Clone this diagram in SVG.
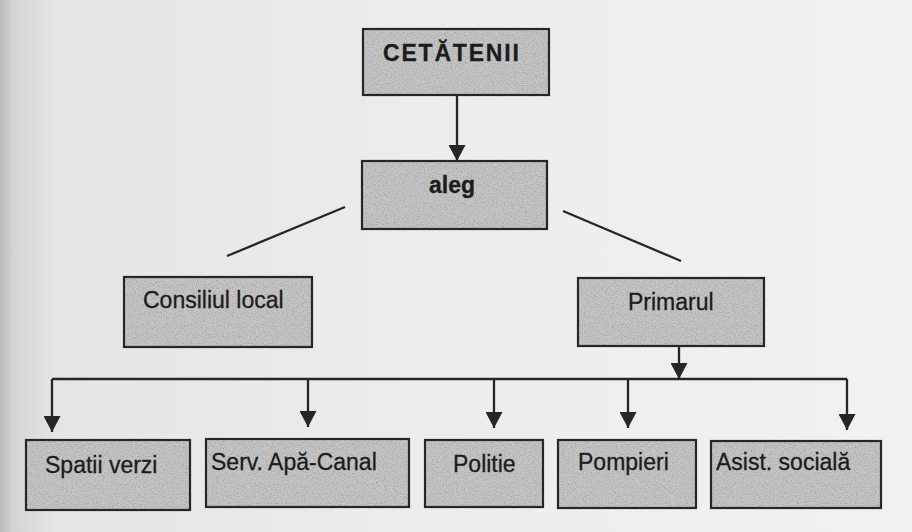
<svg xmlns="http://www.w3.org/2000/svg" width="912" height="532" viewBox="0 0 912 532">
  <defs>
    <linearGradient id="paper" x1="0" y1="0" x2="1" y2="0">
      <stop offset="0" stop-color="#b9b9b9"/>
      <stop offset="0.015" stop-color="#d4d4d4"/>
      <stop offset="0.06" stop-color="#e5e5e5"/>
      <stop offset="0.5" stop-color="#ededed"/>
      <stop offset="1" stop-color="#f1f1f1"/>
    </linearGradient>
    <!-- speckled halftone shading for the box interiors -->
    <filter id="grain" x="0" y="0" width="100%" height="100%">
      <feTurbulence type="fractalNoise" baseFrequency="0.9" numOctaves="2" seed="7" result="n"/>
      <feColorMatrix in="n" type="matrix" values="0 0 0 0 0.38  0 0 0 0 0.38  0 0 0 0 0.38  2.6 0 0 0 -1.08" result="g"/>
      <feComposite in="g" in2="SourceGraphic" operator="in" result="gc"/>
      <feMerge>
        <feMergeNode in="SourceGraphic"/>
        <feMergeNode in="gc"/>
      </feMerge>
    </filter>
    <marker id="arrow" viewBox="0 0 10 10" refX="10" refY="5" markerUnits="userSpaceOnUse" markerWidth="16" markerHeight="17" preserveAspectRatio="none" orient="auto">
      <path d="M0,0 L10,5 L0,10 z" fill="#262626"/>
    </marker>
    <style>
      .shade { fill: #c6c6c6; }
      .edge { fill: none; stroke: #262626; stroke-width: 2.2; }
      .lbl { font-family: "Liberation Sans", Arial, sans-serif; font-size: 23px; fill: #1c1c1c; stroke: #1c1c1c; stroke-width: 0.3; }
      .bold { font-weight: bold; }
      .conn { fill: none; stroke: #262626; stroke-width: 2.3; }
    </style>
  </defs>

  <rect x="0" y="0" width="912" height="532" fill="url(#paper)"/>

  <g id="connectors">
    <path class="conn" d="M457,95 V161" marker-end="url(#arrow)"/>
    <path class="conn" d="M345,207 L227,256"/>
    <path class="conn" d="M563,211 L681,261"/>
    <path class="conn" d="M679,346 V379" marker-end="url(#arrow)"/>
    <path class="conn" d="M52,379 H847"/>
    <path class="conn" d="M52,379 V432" marker-end="url(#arrow)"/>
    <path class="conn" d="M308,379 V427" marker-end="url(#arrow)"/>
    <path class="conn" d="M494,379 V428" marker-end="url(#arrow)"/>
    <path class="conn" d="M628,379 V428" marker-end="url(#arrow)"/>
    <path class="conn" d="M847,379 V430" marker-end="url(#arrow)"/>
  </g>

  <g id="cetatenii">
    <rect class="shade" x="363" y="29" width="186" height="66" filter="url(#grain)"/>
    <rect class="edge" x="363" y="29" width="186" height="66"/>
    <text class="lbl bold" x="383" y="61" font-size="22" letter-spacing="1.8">CETĂTENII</text>
  </g>

  <g id="aleg">
    <rect class="shade" x="362" y="161" width="185" height="68" filter="url(#grain)"/>
    <rect class="edge" x="362" y="161" width="185" height="68"/>
    <text class="lbl bold" x="429" y="193">aleg</text>
  </g>

  <g id="consiliul-local">
    <rect class="shade" x="124" y="277" width="188" height="70" filter="url(#grain)"/>
    <rect class="edge" x="124" y="277" width="188" height="70"/>
    <text class="lbl" x="143" y="308" font-size="22.5">Consiliul local</text>
  </g>

  <g id="primarul">
    <rect class="shade" x="578" y="278" width="186" height="68" filter="url(#grain)"/>
    <rect class="edge" x="578" y="278" width="186" height="68"/>
    <text class="lbl" x="628" y="310">Primarul</text>
  </g>

  <g id="spatii-verzi">
    <rect class="shade" x="26" y="440" width="164" height="70" filter="url(#grain)"/>
    <rect class="edge" x="26" y="440" width="164" height="70"/>
    <text class="lbl" x="45" y="473">Spatii verzi</text>
  </g>

  <g id="serv-apa-canal">
    <rect class="shade" x="206" y="439" width="203" height="68" filter="url(#grain)"/>
    <rect class="edge" x="206" y="439" width="203" height="68"/>
    <text class="lbl" x="211" y="470">Serv. Apă-Canal</text>
  </g>

  <g id="politie">
    <rect class="shade" x="425" y="440" width="118" height="67" filter="url(#grain)"/>
    <rect class="edge" x="425" y="440" width="118" height="67"/>
    <text class="lbl" x="453" y="472">Politie</text>
  </g>

  <g id="pompieri">
    <rect class="shade" x="558" y="440" width="138" height="68" filter="url(#grain)"/>
    <rect class="edge" x="558" y="440" width="138" height="68"/>
    <text class="lbl" x="578" y="470">Pompieri</text>
  </g>

  <g id="asistenta-sociala">
    <rect class="shade" x="711" y="441" width="170" height="67" filter="url(#grain)"/>
    <rect class="edge" x="711" y="441" width="170" height="67"/>
    <text class="lbl" x="716" y="470" font-size="22.3">Asist. socială</text>
  </g>
</svg>
